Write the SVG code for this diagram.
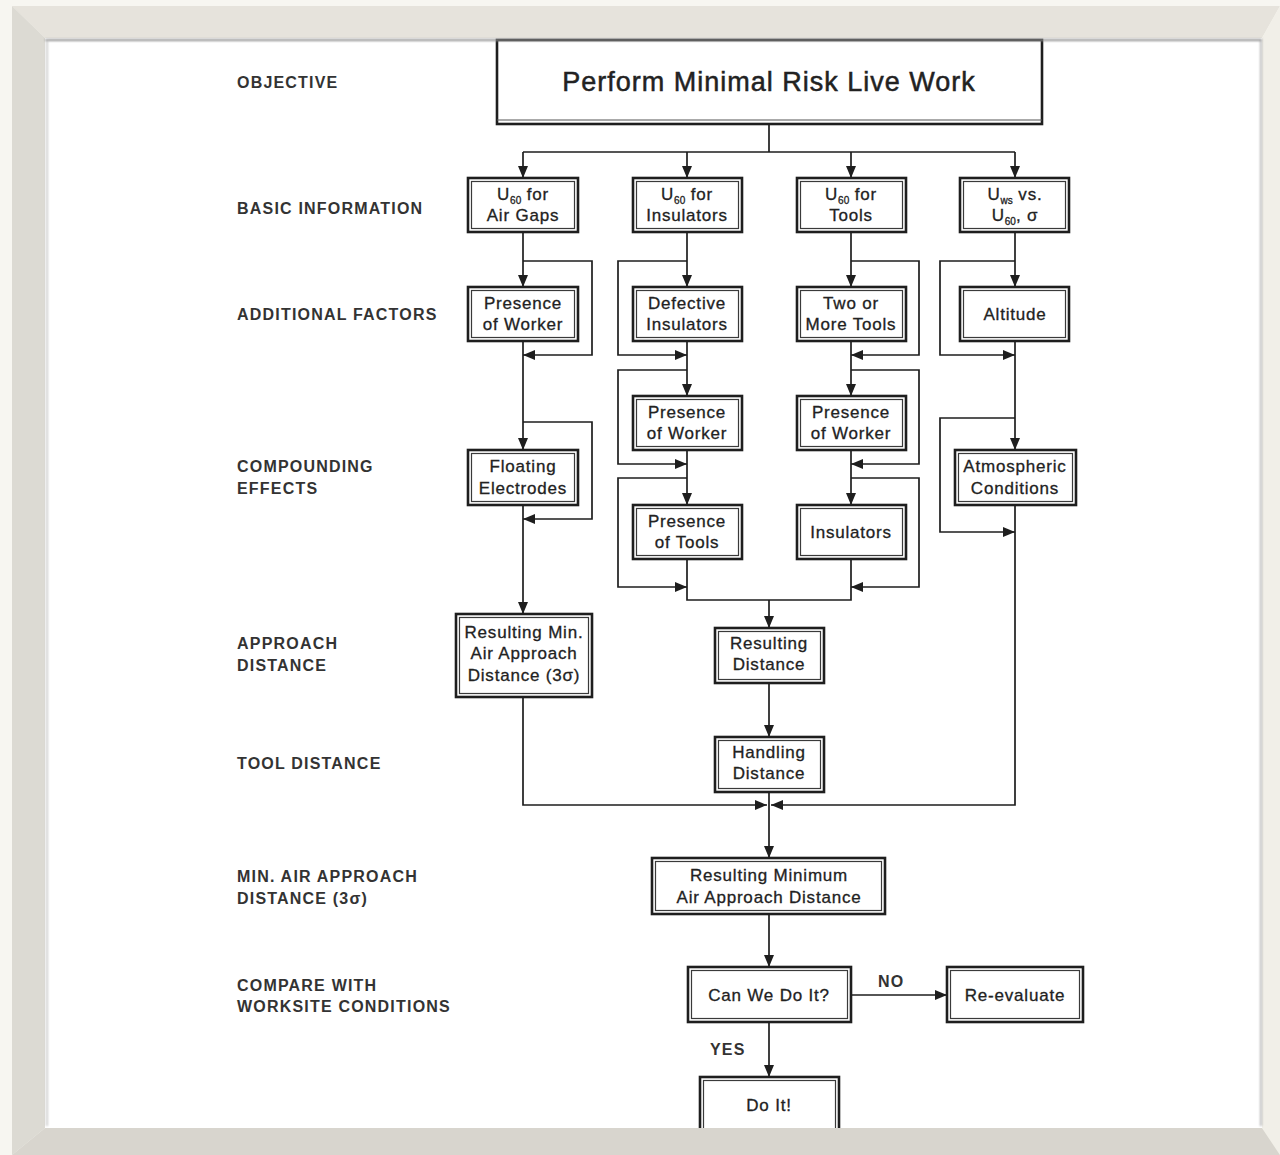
<svg xmlns="http://www.w3.org/2000/svg" width="1280" height="1155" viewBox="0 0 1280 1155">
  <defs>
    <marker id="arr" viewBox="0 0 12 10" refX="12" refY="5" markerWidth="12" markerHeight="10" markerUnits="userSpaceOnUse" orient="auto">
      <path d="M0,0 L12,5 L0,10 Z" fill="#1e1e1e"/>
    </marker>
    <filter id="soft" x="-5%" y="-5%" width="110%" height="110%">
      <feGaussianBlur stdDeviation="1.2"/>
    </filter>
  </defs>
  <style>
    .bo { fill: #ffffff; stroke: #1e1e1e; stroke-width: 2.6; }
    .bi { fill: none; stroke: #3a3a3a; stroke-width: 1.2; }
    .nt { font-family: "Liberation Sans", Arial, sans-serif; font-size: 17px; letter-spacing: 0.8px; fill: #222; stroke: #222; stroke-width: 0.3; text-anchor: middle; }
    .sub { font-size: 10px; letter-spacing: 0; }
    .lb { font-family: "Liberation Sans", Arial, sans-serif; font-size: 16px; font-weight: bold; letter-spacing: 1.2px; fill: #333; }
    .ttl { font-family: "Liberation Sans", Arial, sans-serif; font-size: 27px; letter-spacing: 1px; fill: #222; stroke: #222; stroke-width: 0.5; text-anchor: middle; }
    .cn path { fill: none; stroke: #1e1e1e; stroke-width: 1.7; }
    .cn path.a { marker-end: url(#arr); }
  </style>

  <!-- page background and white sheet -->
  <rect x="0" y="0" width="1280" height="1155" fill="#f7f6f1"/>
  <rect x="45" y="38" width="1217" height="1090" fill="#ffffff"/>

  <!-- row labels -->
  <g id="labels">
    <text class="lb" x="237" y="88">OBJECTIVE</text>
    <text class="lb" x="237" y="214">BASIC INFORMATION</text>
    <text class="lb" x="237" y="320">ADDITIONAL FACTORS</text>
    <text class="lb" x="237" y="472">COMPOUNDING</text>
    <text class="lb" x="237" y="494">EFFECTS</text>
    <text class="lb" x="237" y="649">APPROACH</text>
    <text class="lb" x="237" y="671">DISTANCE</text>
    <text class="lb" x="237" y="769">TOOL DISTANCE</text>
    <text class="lb" x="237" y="882">MIN. AIR APPROACH</text>
    <text class="lb" x="237" y="904">DISTANCE (3σ)</text>
    <text class="lb" x="237" y="991">COMPARE WITH</text>
    <text class="lb" x="237" y="1012">WORKSITE CONDITIONS</text>
  </g>

  <!-- connectors -->
  <g id="connectors" class="cn">
    <path d="M769,124 V152 M523,152 H1015"/>
    <path class="a" d="M523,152 V178"/>
    <path class="a" d="M687,152 V178"/>
    <path class="a" d="M851,152 V178"/>
    <path class="a" d="M1015,152 V178"/>

    <!-- air gaps column -->
    <path class="a" d="M523,232 V287"/>
    <path class="a" d="M523,261 H592 V355 H523"/>
    <path class="a" d="M523,341 V450"/>
    <path class="a" d="M523,422 H592 V519 H523"/>
    <path class="a" d="M523,505 V614"/>

    <!-- insulators column -->
    <path class="a" d="M687,232 V287"/>
    <path class="a" d="M687,261 H618 V355 H687"/>
    <path class="a" d="M687,341 V396"/>
    <path class="a" d="M687,370 H618 V464 H687"/>
    <path class="a" d="M687,450 V505"/>
    <path class="a" d="M687,478 H618 V587 H687"/>

    <!-- tools column -->
    <path class="a" d="M851,232 V287"/>
    <path class="a" d="M851,261 H919 V355 H851"/>
    <path class="a" d="M851,341 V396"/>
    <path class="a" d="M851,370 H919 V464 H851"/>
    <path class="a" d="M851,450 V505"/>
    <path class="a" d="M851,478 H919 V587 H851"/>

    <path d="M687,559 V600 H851 V559"/>
    <path class="a" d="M769,600 V628"/>

    <!-- withstand column -->
    <path class="a" d="M1015,232 V287"/>
    <path class="a" d="M1015,261 H940 V355 H1015"/>
    <path class="a" d="M1015,341 V450"/>
    <path class="a" d="M1015,418 H940 V532 H1015"/>
    <path class="a" d="M1015,505 V805 H771"/>

    <path class="a" d="M523,697 V805 H767"/>
    <path class="a" d="M769,683 V737"/>
    <path class="a" d="M769,792 V858"/>

    <path class="a" d="M769,914 V967"/>
    <path class="a" d="M851,995 H947"/>
    <path class="a" d="M769,1022 V1077"/>
    <text class="lb" x="878" y="987" letter-spacing="0.5">NO</text>
    <text class="lb" x="710" y="1055" letter-spacing="0.5">YES</text>
  </g>

  <!-- objective -->
  <g id="n-objective">
    <rect class="bo" x="497" y="40" width="545" height="84" stroke-width="3"/>
    <line x1="497" y1="120" x2="1042" y2="120" stroke="#555" stroke-width="1"/>
    <text class="ttl" x="769" y="91">Perform Minimal Risk Live Work</text>
  </g>

  <!-- basic information -->
  <g id="n-u60-airgaps">
    <rect class="bo" x="468" y="178" width="110" height="54"/>
    <rect class="bi" x="471.5" y="181.5" width="103" height="47"/>
    <text class="nt" x="523" y="200">U<tspan class="sub" dy="4">60</tspan><tspan dy="-4"> for</tspan></text>
    <text class="nt" x="523" y="221">Air Gaps</text>
  </g>
  <g id="n-u60-insulators">
    <rect class="bo" x="633" y="178" width="109" height="54"/>
    <rect class="bi" x="636.5" y="181.5" width="102" height="47"/>
    <text class="nt" x="687" y="200">U<tspan class="sub" dy="4">60</tspan><tspan dy="-4"> for</tspan></text>
    <text class="nt" x="687" y="221">Insulators</text>
  </g>
  <g id="n-u60-tools">
    <rect class="bo" x="797" y="178" width="109" height="54"/>
    <rect class="bi" x="800.5" y="181.5" width="102" height="47"/>
    <text class="nt" x="851" y="200">U<tspan class="sub" dy="4">60</tspan><tspan dy="-4"> for</tspan></text>
    <text class="nt" x="851" y="221">Tools</text>
  </g>
  <g id="n-uws">
    <rect class="bo" x="960" y="178" width="109" height="54"/>
    <rect class="bi" x="963.5" y="181.5" width="102" height="47"/>
    <text class="nt" x="1015" y="200">U<tspan class="sub" dy="4">ws</tspan><tspan dy="-4"> vs.</tspan></text>
    <text class="nt" x="1015" y="221">U<tspan class="sub" dy="4">60</tspan><tspan dy="-4">, σ</tspan></text>
  </g>

  <!-- additional factors -->
  <g id="n-presence-worker-1">
    <rect class="bo" x="468" y="287" width="110" height="54"/>
    <rect class="bi" x="471.5" y="290.5" width="103" height="47"/>
    <text class="nt" x="523" y="309">Presence</text>
    <text class="nt" x="523" y="330">of Worker</text>
  </g>
  <g id="n-defective-insulators">
    <rect class="bo" x="633" y="287" width="109" height="54"/>
    <rect class="bi" x="636.5" y="290.5" width="102" height="47"/>
    <text class="nt" x="687" y="309">Defective</text>
    <text class="nt" x="687" y="330">Insulators</text>
  </g>
  <g id="n-two-tools">
    <rect class="bo" x="797" y="287" width="109" height="54"/>
    <rect class="bi" x="800.5" y="290.5" width="102" height="47"/>
    <text class="nt" x="851" y="309">Two or</text>
    <text class="nt" x="851" y="330">More Tools</text>
  </g>
  <g id="n-altitude">
    <rect class="bo" x="960" y="287" width="109" height="54"/>
    <rect class="bi" x="963.5" y="290.5" width="102" height="47"/>
    <text class="nt" x="1015" y="320">Altitude</text>
  </g>

  <!-- compounding effects -->
  <g id="n-floating-electrodes">
    <rect class="bo" x="468" y="450" width="110" height="55"/>
    <rect class="bi" x="471.5" y="453.5" width="103" height="48"/>
    <text class="nt" x="523" y="472">Floating</text>
    <text class="nt" x="523" y="494">Electrodes</text>
  </g>
  <g id="n-presence-worker-2">
    <rect class="bo" x="633" y="396" width="109" height="54"/>
    <rect class="bi" x="636.5" y="399.5" width="102" height="47"/>
    <text class="nt" x="687" y="418">Presence</text>
    <text class="nt" x="687" y="439">of Worker</text>
  </g>
  <g id="n-presence-tools">
    <rect class="bo" x="633" y="505" width="109" height="54"/>
    <rect class="bi" x="636.5" y="508.5" width="102" height="47"/>
    <text class="nt" x="687" y="527">Presence</text>
    <text class="nt" x="687" y="548">of Tools</text>
  </g>
  <g id="n-presence-worker-3">
    <rect class="bo" x="797" y="396" width="109" height="54"/>
    <rect class="bi" x="800.5" y="399.5" width="102" height="47"/>
    <text class="nt" x="851" y="418">Presence</text>
    <text class="nt" x="851" y="439">of Worker</text>
  </g>
  <g id="n-insulators">
    <rect class="bo" x="797" y="505" width="109" height="54"/>
    <rect class="bi" x="800.5" y="508.5" width="102" height="47"/>
    <text class="nt" x="851" y="538">Insulators</text>
  </g>
  <g id="n-atmospheric">
    <rect class="bo" x="955" y="450" width="121" height="55"/>
    <rect class="bi" x="958.5" y="453.5" width="114" height="48"/>
    <text class="nt" x="1015" y="472">Atmospheric</text>
    <text class="nt" x="1015" y="494">Conditions</text>
  </g>

  <!-- approach and tool distances -->
  <g id="n-resulting-min">
    <rect class="bo" x="456" y="614" width="136" height="83"/>
    <rect class="bi" x="459.5" y="617.5" width="129" height="76"/>
    <text class="nt" x="524" y="638">Resulting Min.</text>
    <text class="nt" x="524" y="659">Air Approach</text>
    <text class="nt" x="524" y="681">Distance (3σ)</text>
  </g>
  <g id="n-resulting-distance">
    <rect class="bo" x="715" y="628" width="109" height="55"/>
    <rect class="bi" x="718.5" y="631.5" width="102" height="48"/>
    <text class="nt" x="769" y="649">Resulting</text>
    <text class="nt" x="769" y="670">Distance</text>
  </g>
  <g id="n-handling-distance">
    <rect class="bo" x="715" y="737" width="109" height="55"/>
    <rect class="bi" x="718.5" y="740.5" width="102" height="48"/>
    <text class="nt" x="769" y="758">Handling</text>
    <text class="nt" x="769" y="779">Distance</text>
  </g>

  <!-- result and decision -->
  <g id="n-resulting-minimum">
    <rect class="bo" x="652" y="858" width="233" height="56"/>
    <rect class="bi" x="655.5" y="861.5" width="226" height="49"/>
    <text class="nt" x="769" y="881">Resulting Minimum</text>
    <text class="nt" x="769" y="903">Air Approach Distance</text>
  </g>
  <g id="n-can-we">
    <rect class="bo" x="688" y="967" width="163" height="55"/>
    <rect class="bi" x="691.5" y="970.5" width="156" height="48"/>
    <text class="nt" x="769" y="1001">Can We Do It?</text>
  </g>
  <g id="n-reevaluate">
    <rect class="bo" x="947" y="967" width="136" height="55"/>
    <rect class="bi" x="950.5" y="970.5" width="129" height="48"/>
    <text class="nt" x="1015" y="1001">Re-evaluate</text>
  </g>
  <g id="n-do-it">
    <rect class="bo" x="700" y="1077" width="139" height="70"/>
    <rect class="bi" x="703.5" y="1080.5" width="132" height="66"/>
    <text class="nt" x="769" y="1111">Do It!</text>
  </g>

  <!-- bevelled frame round the sheet -->
  <g id="frame">
    <polygon points="12,6 1280,6 1262,38 45,38" fill="#e6e3dc"/>
    <polygon points="12,6 45,38 45,1128 12,1155" fill="#dcdad3"/>
    <polygon points="1280,6 1280,1155 1262,1128 1262,38" fill="#f1efe8"/>
    <polygon points="12,1155 45,1128 1262,1128 1280,1155" fill="#d8d5ce"/>
    <g filter="url(#soft)">
      <line x1="45" y1="40" x2="1262" y2="40" stroke="#8e8e8e" stroke-width="2"/>
      <line x1="47" y1="40" x2="47" y2="1126" stroke="#bdbdbd" stroke-width="1.5"/>
      <line x1="1261" y1="40" x2="1261" y2="1126" stroke="#a0a0a0" stroke-width="1.5"/>
    </g>
  </g>
</svg>
